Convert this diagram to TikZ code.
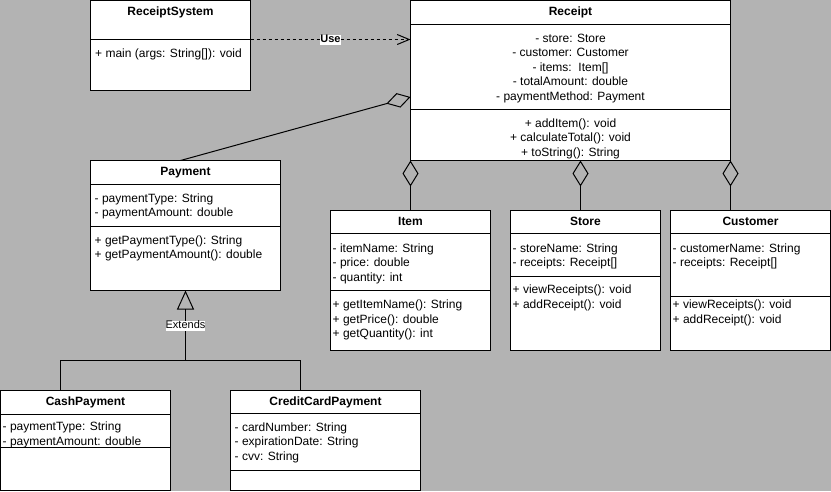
\documentclass[tikz,border=0pt]{standalone}
\usepackage{fontspec}
\setmainfont{Liberation Sans}
\usetikzlibrary{arrows.meta,calc}
\definecolor{canvas}{RGB}{179,179,179}

% horizontal separator inside a class box, #2 = distance below the top edge
\newcommand\classrule[2]{\draw[rule] ($(#1.north west)+(0,#2)$) -- ($(#1.north east)+(0,#2)$);}

\begin{document}
\begin{tikzpicture}[x=1pt,y=-1pt,
  classbox/.style={draw=black,line width=1pt,fill=white,rectangle,inner sep=0pt,outer sep=0pt,anchor=north west},
  rule/.style={draw=black,line width=1pt},
  title/.style={font=\fontsize{12}{14.4}\selectfont\bfseries,inner sep=0pt,anchor=base},
  member/.style={font=\fontsize{12}{14.4}\selectfont,inner sep=0pt,anchor=base west},
  cmember/.style={font=\fontsize{12}{14.4}\selectfont,inner sep=0pt,anchor=base},
  link/.style={draw=black,line width=1pt},
  edgelabel/.style={fill=white,inner sep=0pt,text height=8pt,text depth=2pt},
  aggr/.style={{Diamond[open,length=26pt,width=16pt]}-}
]
\fill[canvas] (0,0) rectangle (831,491);
\useasboundingbox (0,0) rectangle (831,491);

% ---- class boxes ----
\node[classbox,minimum width=160pt,minimum height=90pt]  (rs)   at (90.5,0.5)   {};
\node[classbox,minimum width=320pt,minimum height=160pt] (rc)   at (410.5,0.5)  {};
\node[classbox,minimum width=190pt,minimum height=130pt] (pay)  at (90.5,160.5) {};
\node[classbox,minimum width=160pt,minimum height=140pt] (it)   at (330.5,210.5) {};
\node[classbox,minimum width=150pt,minimum height=140pt] (st)   at (510.5,210.5) {};
\node[classbox,minimum width=160pt,minimum height=140pt] (cu)   at (670.5,210.5) {};
\node[classbox,minimum width=170pt,minimum height=100pt] (cash) at (0.5,390.5)  {};
\node[classbox,minimum width=190pt,minimum height=100pt] (cred) at (230.5,390.5) {};

% ---- compartments ----
\classrule{rs}{39}
\classrule{rc}{24}   \classrule{rc}{109}
\classrule{pay}{24}  \classrule{pay}{66}
\classrule{it}{23}   \classrule{it}{80}
\classrule{st}{23}   \classrule{st}{65.5}
\classrule{cu}{23}   \classrule{cu}{85.5}
\classrule{cash}{24} \classrule{cash}{57}
\classrule{cred}{23} \classrule{cred}{80}

% ---- ReceiptSystem ----
\node[title]  (rsT)  at (170.5,15) {ReceiptSystem};
\node[member] (rsM1) at (95,57)    {+ main (args: String[]): void};

% ---- Receipt ----
\node[title]   (rcT)  at (570.5,15)    {Receipt};
\node[cmember] (rcA1) at (570.5,42)    {- store: Store};
\node[cmember] (rcA2) at (570.5,56.5)  {- customer: Customer};
\node[cmember] (rcA3) at (570.5,71)    {- items:\ \ Item[]};
\node[cmember] (rcA4) at (570.5,85.5)  {- totalAmount: double};
\node[cmember] (rcA5) at (570.5,100)   {- paymentMethod: Payment};
\node[cmember] (rcM1) at (570.5,127)   {+ addItem(): void};
\node[cmember] (rcM2) at (570.5,141.5) {+ calculateTotal(): void};
\node[cmember] (rcM3) at (570.5,156)   {+ toString(): String};

% ---- Payment ----
\node[title]  (payT)  at (185.5,175)  {Payment};
\node[member] (payA1) at (94.5,202)   {- paymentType: String};
\node[member] (payA2) at (94.5,216.5) {- paymentAmount: double};
\node[member] (payM1) at (94.5,244.3) {+ getPaymentType(): String};
\node[member] (payM2) at (94.5,258.8) {+ getPaymentAmount(): double};

% ---- Item ----
\node[title]  (itT)  at (410.5,225)   {Item};
\node[member] (itA1) at (332.5,252)   {- itemName: String};
\node[member] (itA2) at (332.5,266.5) {- price: double};
\node[member] (itA3) at (332.5,281)   {- quantity: int};
\node[member] (itM1) at (332.5,308.6) {+ getItemName(): String};
\node[member] (itM2) at (332.5,323)   {+ getPrice(): double};
\node[member] (itM3) at (332.5,337.5) {+ getQuantity(): int};

% ---- Store ----
\node[title]  (stT)  at (585.5,225)   {Store};
\node[member] (stA1) at (512.5,252)   {- storeName: String};
\node[member] (stA2) at (512.5,266.5) {- receipts: Receipt[]};
\node[member] (stM1) at (512.5,293.6) {+ viewReceipts(): void};
\node[member] (stM2) at (512.5,308)   {+ addReceipt(): void};

% ---- Customer ----
\node[title]  (cuT)  at (750.5,225)   {Customer};
\node[member] (cuA1) at (672.5,252)   {- customerName: String};
\node[member] (cuA2) at (672.5,266.5) {- receipts: Receipt[]};
\node[member] (cuM1) at (672.5,308.6) {+ viewReceipts(): void};
\node[member] (cuM2) at (672.5,323)   {+ addReceipt(): void};

% ---- CashPayment ----
\node[title]  (cashT)  at (85.5,405)  {CashPayment};
\node[member] (cashA1) at (2.5,430.5) {- paymentType: String};
\node[member] (cashA2) at (2.5,445)   {- paymentAmount: double};

% ---- CreditCardPayment ----
\node[title]  (credT)  at (325.5,405)   {CreditCardPayment};
\node[member] (credA1) at (234.5,431)   {- cardNumber: String};
\node[member] (credA2) at (234.5,445.5) {- expirationDate: String};
\node[member] (credA3) at (234.5,460)   {- cvv: String};

% ---- dependency ----
\draw[link,dash pattern=on 3pt off 3pt,-{Straight Barb[length=12pt,width=10pt]}]
  ($(rs.north east)+(0,39)$) -- ($(rc.north west)+(0,39)$)
  node[midway,edgelabel,font=\fontsize{11}{13}\selectfont\bfseries] (use) {Use};

% ---- aggregations ----
\draw[link,{Diamond[open,length=25pt,width=15pt]}-]
  ($(rc.north west)+(0,96.5)$) -- ($(pay.north)+(-5,0)$);
\draw[link,aggr] (rc.south west) -- (rc.south west |- it.north);
\draw[link,aggr] ($(rc.south west)+(170,0)$) -- ($(st.north west)+(70,0)$);
\draw[link,aggr] (rc.south east) -- (rc.south east |- cu.north);

% ---- generalization ----
\coordinate (hub) at ($(pay.south)+(0,70)$);
\draw[link,-{Triangle[open,length=19pt,width=17pt]}]
  ($(cash.north west)+(60,0)$) |- (hub) -- (pay.south);
\draw[link] ($(cred.north west)+(70,0)$) |- (hub);
\node[edgelabel,font=\fontsize{11}{13}\selectfont] (ext) at ($(pay.south)+(0,35)$) {Extends};
\end{tikzpicture}
\end{document}
